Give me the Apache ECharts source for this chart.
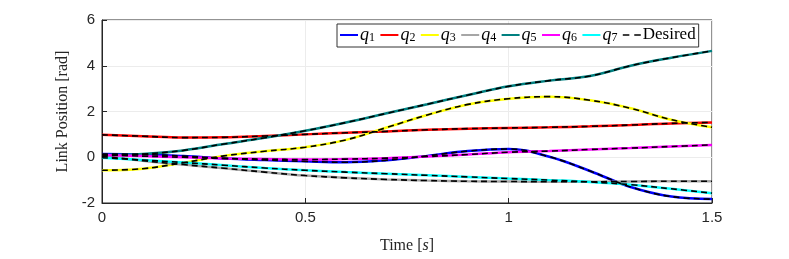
<!DOCTYPE html>
<html><head><meta charset="utf-8">
<script src="https://cdn.jsdelivr.net/npm/echarts@6/dist/echarts.min.js"></script>
<style>html,body{margin:0;padding:0;background:#fff}#c{width:789px;height:259px}</style>
</head><body><div id="c"></div>
<script>
const time = [0,0.1,0.2,0.3,0.4,0.5,0.6,0.7,0.8,0.9,1.0,1.1,1.2,1.3,1.4,1.5];
const q1 = [0.14,0.12,0.05,-0.05,-0.12,-0.18,-0.22,-0.13,0.06,0.27,0.36,0.02,-0.6,-1.3,-1.72,-1.83];
const q2 = [0.98,0.92,0.86,0.87,0.93,1.0,1.07,1.13,1.2,1.25,1.28,1.31,1.35,1.41,1.48,1.52];
const q3 = [-0.57,-0.5,-0.24,0.06,0.26,0.44,0.76,1.3,1.85,2.31,2.56,2.65,2.49,2.14,1.64,1.31];
const q4 = [0.05,-0.15,-0.32,-0.48,-0.65,-0.8,-0.9,-0.97,-1.02,-1.05,-1.06,-1.07,-1.07,-1.06,-1.05,-1.05];
const q5 = [0.1,0.14,0.3,0.58,0.85,1.16,1.52,1.92,2.32,2.72,3.1,3.35,3.55,4.0,4.35,4.65];
const q6 = [0.1,0.05,0.0,-0.05,-0.08,-0.1,-0.08,-0.04,0.03,0.12,0.22,0.27,0.34,0.4,0.47,0.54];
const q7 = [-0.02,-0.12,-0.23,-0.35,-0.47,-0.57,-0.65,-0.72,-0.79,-0.86,-0.93,-1.0,-1.08,-1.2,-1.38,-1.57];
const names = ['q1','q2','q3','q4','q5','q6','q7'];
const colors = ['#0000ff','#ff0000','#ffff00','#a6a6a6','#008080','#ff00ff','#00ffff'];
const xTicks = ['0','0.5','1','1.5'];

const all = [q1,q2,q3,q4,q5,q6,q7];
const pair = arr => time.map((t,i)=>[t,arr[i]]);
const series = [];
all.forEach((arr,k)=>{
  series.push({name:names[k],type:'line',data:pair(arr),smooth:0.4,showSymbol:false,
    lineStyle:{color:colors[k],width:2.5},itemStyle:{color:colors[k]},z:2});
});
all.forEach((arr,k)=>{
  series.push({name:'Desired',type:'line',data:pair(arr),smooth:0.4,showSymbol:false,
    lineStyle:{color:'#000',width:1.6,type:[6,4]},itemStyle:{color:'#000'},z:3});
});
const chart = echarts.init(document.getElementById('c'));
const serif = '"Liberation Serif","DejaVu Serif",serif';
chart.setOption({
  animation:false,
  backgroundColor:'#fff',
  grid:{left:102,right:77,top:20,bottom:52,show:true,borderColor:'#262626',borderWidth:1,backgroundColor:'transparent'},
  legend:{
    left:337,top:24,
    data:names.map((n,k)=>({name:n,icon:'rect',itemStyle:{color:colors[k]}})).concat([{name:'Desired',icon:'path://M0,0h4v1h-4z M7,0h4v1h-4z',itemStyle:{color:'#000'}}]),
    itemWidth:18,itemHeight:2,itemGap:5.4,
    padding:[2,3,3,3],
    borderColor:'#333',borderWidth:1,backgroundColor:'#fff',
    formatter:n=> n==='Desired' ? '{d|Desired}' : '{i|q}{s|'+n.slice(1)+'}',
    textStyle:{padding:[0,0,0,-3],rich:{
      i:{fontFamily:serif,fontStyle:'italic',fontSize:18,color:'#000'},
      s:{fontFamily:serif,fontSize:12,color:'#000',verticalAlign:'bottom',padding:[6,0,0,0]},
      d:{fontFamily:serif,fontSize:17,color:'#000'}
    }}
  },
  xAxis:{type:'value',min:0,max:1.5,interval:0.5,
    name:'{a|Time [}{b|s}{a|]}',nameLocation:'middle',nameGap:35,
    nameTextStyle:{rich:{a:{fontFamily:serif,fontSize:16,color:'#262626'},b:{fontFamily:serif,fontStyle:'italic',fontSize:16,color:'#262626'}}},
    axisLine:{onZero:false,lineStyle:{color:'#262626'}},
    axisTick:{inside:true,length:5,lineStyle:{color:'#262626'}},
    axisLabel:{fontFamily:'"Liberation Sans",Arial,sans-serif',fontSize:15,color:'#262626',margin:7,
      formatter:v=>xTicks[Math.round(v/0.5)]},
    splitLine:{show:true,lineStyle:{color:'#ececec',width:1}}
  },
  yAxis:{type:'value',min:-2,max:6,interval:2,
    name:'Link Position [rad]',nameLocation:'middle',nameGap:31,
    nameTextStyle:{fontFamily:serif,fontSize:16,color:'#262626'},
    axisLine:{show:true,onZero:false,lineStyle:{color:'#262626'}},
    axisTick:{show:true,inside:true,length:5,lineStyle:{color:'#262626'}},
    axisLabel:{fontFamily:'"Liberation Sans",Arial,sans-serif',fontSize:15,color:'#262626',margin:7},
    splitLine:{show:true,lineStyle:{color:'#ececec',width:1}}
  },
  series:series
});
</script></body></html>
